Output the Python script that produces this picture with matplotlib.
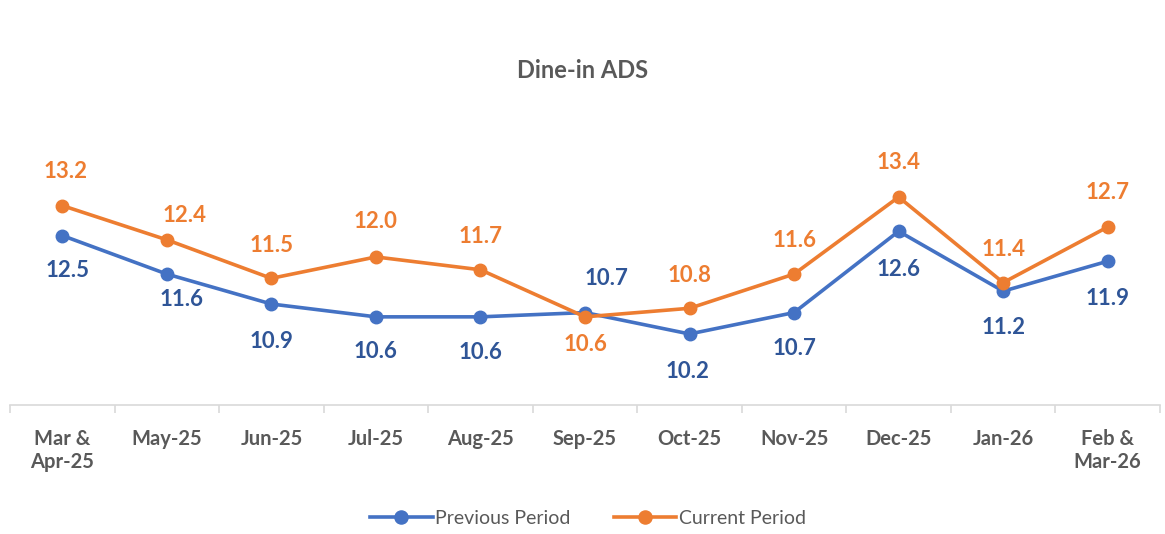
import matplotlib.pyplot as plt

months = ['Mar &\nApr-25', 'May-25', 'Jun-25', 'Jul-25', 'Aug-25', 'Sep-25',
          'Oct-25', 'Nov-25', 'Dec-25', 'Jan-26', 'Feb &\nMar-26']
previous = [12.5, 11.6, 10.9, 10.6, 10.6, 10.7, 10.2, 10.7, 12.6, 11.2, 11.9]
current = [13.2, 12.4, 11.5, 12.0, 11.7, 10.6, 10.8, 11.6, 13.4, 11.4, 12.7]

# label offsets in pixels (dx, dy), dy positive = up
prev_off = [(5, -35), (15, -25), (0, -37), (0, -35), (0, -36), (21, 34),
            (-2, -38), (0, -36), (0, -38), (0, -36), (0, -37)]
cur_off = [(3, 34), (18, 24), (0, 33), (0, 35), (0, 33), (0, -28),
           (0, 33), (0, 34), (0, 35), (0, 33), (0, 34)]

blue = '#4472C4'
dark_blue = '#2F5597'
orange = '#ED7D31'
grey = '#595959'

plt.rcParams['font.family'] = ['Lato', 'DejaVu Sans']

fig = plt.figure(figsize=(11.65, 5.34), dpi=100)
ax = fig.add_axes([10 / 1165, 1 - 405 / 534, 1150 / 1165, 285 / 534])

x = list(range(len(months)))
ax.plot(x, previous, color=blue, lw=2.6, marker='o', ms=9, label='Previous Period', zorder=3)
ax.plot(x, current, color=orange, lw=2.6, marker='o', ms=9, label='Current Period', zorder=3)

for i in x:
    dx, dy = prev_off[i]
    ax.annotate(f'{previous[i]:.1f}', (i, previous[i]), xytext=(dx * 0.72, dy * 0.72),
                textcoords='offset points', ha='center', va='center',
                fontsize=16, fontweight='bold', color=dark_blue)
    dx, dy = cur_off[i]
    ax.annotate(f'{current[i]:.1f}', (i, current[i]), xytext=(dx * 0.72, dy * 0.72),
                textcoords='offset points', ha='center', va='center',
                fontsize=16, fontweight='bold', color=orange)

ax.set_xlim(-0.5, len(months) - 0.5)
ax.set_ylim(8.54, 15.2)
ax.set_yticks([])
for s in ['top', 'right', 'left']:
    ax.spines[s].set_visible(False)
ax.spines['bottom'].set_color('#D9D9D9')
ax.spines['bottom'].set_linewidth(1.2)

ax.set_xticks(x)
ax.set_xticklabels(months, fontsize=14.5, fontweight='bold', color=grey, linespacing=1.2)
ax.tick_params(axis='x', which='major', length=0, pad=17)
ax.set_xticks([i - 0.5 for i in range(len(months) + 1)], minor=True)
ax.tick_params(axis='x', which='minor', length=6, color='#D9D9D9', width=1.2)

fig.text(583 / 1165, 1 - 70 / 534, 'Dine-in ADS', ha='center', va='center',
         fontsize=17, fontweight='bold', color=grey)

fig.legend(loc='center', bbox_to_anchor=(588 / 1165, 1 - 518 / 534), ncol=2, frameon=False,
           fontsize=14, labelcolor=grey, handlelength=3.2, columnspacing=2.2,
           handletextpad=0.15, markerscale=1.05)

fig.savefig('out.png', dpi=100)
